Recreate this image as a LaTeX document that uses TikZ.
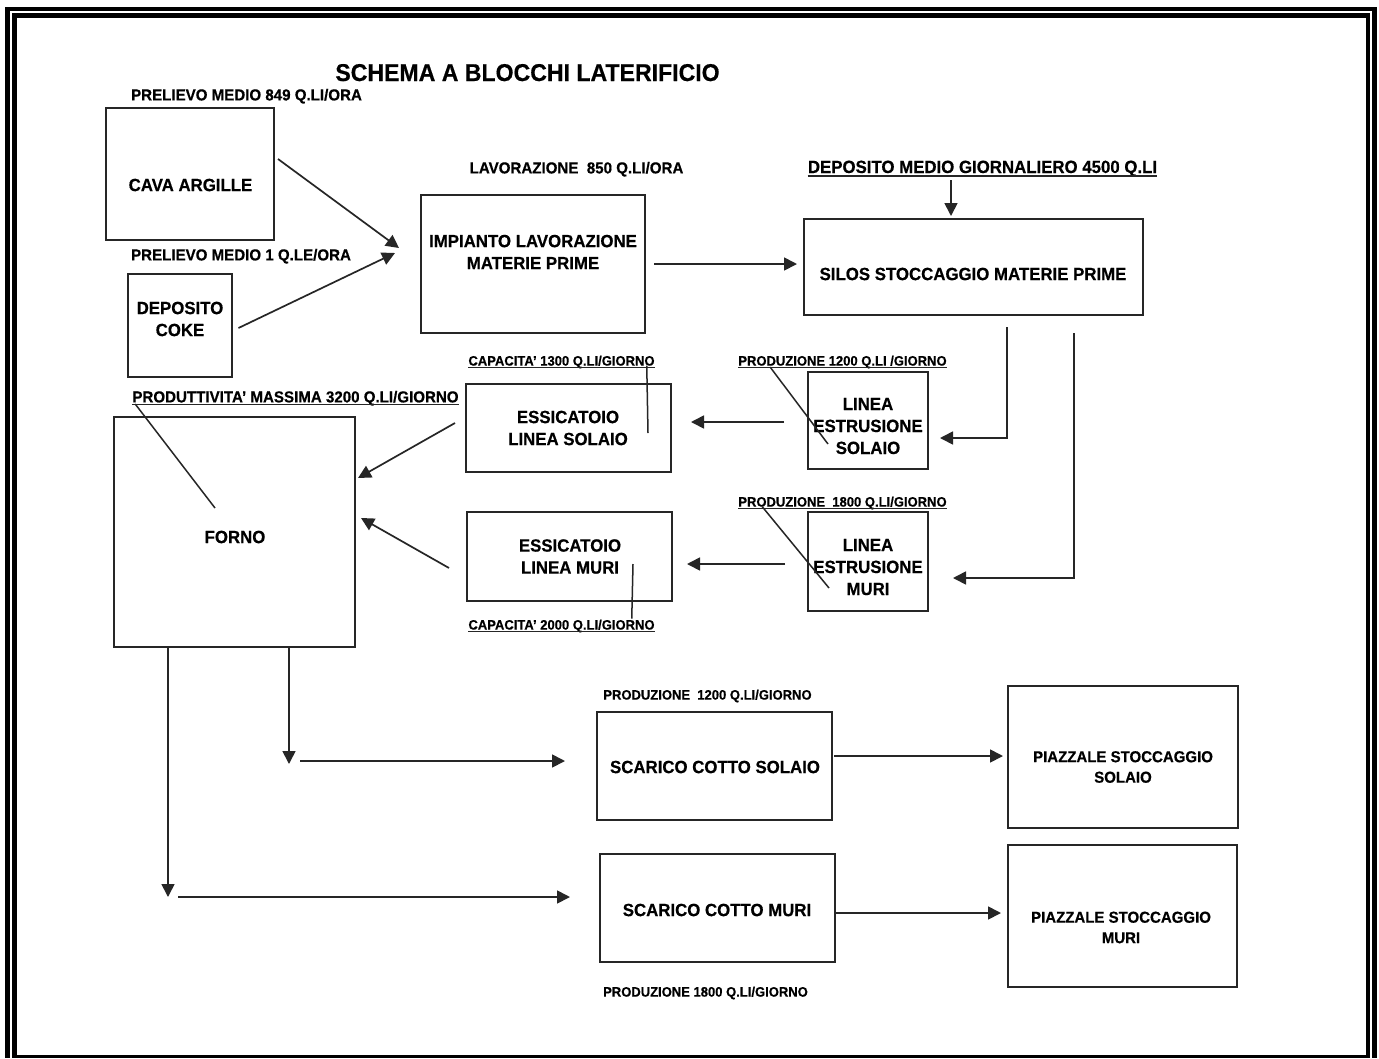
\documentclass[tikz,border=0pt]{standalone}
\usepackage{fontspec}
\setmainfont{Liberation Sans}[BoldFeatures={FakeBold=0.5,FakeStretch=0.95}]
\usetikzlibrary{arrows.meta,fit,calc}
\newcommand\mybox[5]{\coordinate (#1-a) at (#2,#3); \coordinate (#1-b) at (#4,#5); \node[box, fit=(#1-a)(#1-b)] (#1) {};}
\newcommand\ulin[2][1.8pt]{\draw[ul] ([yshift=-#1]#2.base west) -- ([yshift=-#1]#2.base east);}
\tikzset{
  box/.style={draw=black!85, line width=1.7pt, inner sep=0pt, outer sep=0pt},
  txt/.style={font=\bfseries\fontsize{17.7}{22}\selectfont, align=center, inner sep=0pt, text=black},
  txtsm/.style={font=\bfseries\fontsize{15.8}{20.5}\selectfont, align=center, inner sep=0pt, text=black},
  labA/.style={inner sep=0pt, anchor=base, text=black, font=\bfseries\fontsize{15.9}{18}\selectfont},
  labB/.style={inner sep=0pt, anchor=base, text=black, font=\bfseries\fontsize{13.7}{16}\selectfont},
  labC/.style={inner sep=0pt, anchor=base, text=black, font=\bfseries\fontsize{17.7}{20}\selectfont},
  arr/.style={draw=black!85, line width=1.7pt, -{Triangle[length=13pt,width=13pt]}},
  lead/.style={draw=black!85, line width=1.5pt},
  ul/.style={draw=black!85, line width=1.3pt},
}
\begin{document}
\begin{tikzpicture}[x=1pt,y=-1pt]
\useasboundingbox (0,0) rectangle (1379,1058);
% frame
\fill[black] (5,7) rectangle (1377,1058);
\fill[white] (10,11) rectangle (1372,1058);
\fill[black] (12,13) rectangle (1370,1058);
\fill[white] (17,18) rectangle (1366,1055);

% title and labels
\node[labA, font=\bfseries\fontsize{24.3}{28}\selectfont] (title) at (527.5,81) {SCHEMA A BLOCCHI LATERIFICIO};
\node[labA] (pre849) at (246.5,100.4) {PRELIEVO MEDIO 849 Q.LI/ORA};
\node[labA] (pre1) at (241,260.4) {PRELIEVO MEDIO 1 Q.LE/ORA};
\node[labA] (lav) at (576.5,173.4) {LAVORAZIONE\ \ 850 Q.LI/ORA};
\node[labC] (dep) at (982.5,173) {DEPOSITO MEDIO GIORNALIERO 4500 Q.LI};
\node[labB] (prodS) at (842.5,365.6) {PRODUZIONE 1200 Q.LI /GIORNO};
\node[labB] (cap1300) at (561.5,365.6) {CAPACITA' 1300 Q.LI/GIORNO};
\node[labA] (produtt) at (295.5,402.4) {PRODUTTIVITA' MASSIMA 3200 Q.LI/GIORNO};
\node[labB] (prodM) at (842.5,506.6) {PRODUZIONE\ \ 1800 Q.LI/GIORNO};
\node[labB] (cap2000) at (561.5,629.6) {CAPACITA' 2000 Q.LI/GIORNO};
\node[labB] (prodSb) at (707.5,699.6) {PRODUZIONE\ \ 1200 Q.LI/GIORNO};
\node[labB] (prodMb) at (705.5,996.6) {PRODUZIONE 1800 Q.LI/GIORNO};
\ulin[3pt]{dep}
\ulin{prodS}
\ulin{cap1300}
\ulin{produtt}
\ulin{prodM}
\ulin{cap2000}

% boxes
\mybox{cava}{106}{108}{274}{240}
\mybox{coke}{128}{274}{232}{377}
\mybox{imp}{421}{195}{645}{333}
\mybox{silos}{804}{219}{1143}{315}
\mybox{linS}{808}{372}{928}{469}
\mybox{essS}{466}{384}{671}{472}
\mybox{forno}{114}{417}{355}{647}
\mybox{essM}{467}{512}{672}{601}
\mybox{linM}{808}{512}{928}{611}
\mybox{scS}{597}{712}{832}{820}
\mybox{piS}{1008}{686}{1238}{828}
\mybox{scM}{600}{854}{835}{962}
\mybox{piM}{1008}{845}{1237}{987}

% box texts
\node[txt] (cavaT) at (190.5,185) {CAVA ARGILLE};
\node[txt] (cokeT) at (180,319) {DEPOSITO\\COKE};
\node[txt] (impT) at (533,252) {IMPIANTO LAVORAZIONE\\MATERIE PRIME};
\node[txt] (silosT) at (973,274) {SILOS STOCCAGGIO MATERIE PRIME};
\node[txt] (linST) at (868,426) {LINEA\\ESTRUSIONE\\SOLAIO};
\node[txt] (essST) at (568,428) {ESSICATOIO\\LINEA SOLAIO};
\node[txt] (fornoT) at (235,537) {FORNO};
\node[txt] (essMT) at (570,556.5) {ESSICATOIO\\LINEA MURI};
\node[txt] (linMT) at (868,567) {LINEA\\ESTRUSIONE\\MURI};
\node[txt] (scST) at (715,767) {SCARICO COTTO SOLAIO};
\node[txtsm] (piST) at (1123,767) {PIAZZALE STOCCAGGIO\\SOLAIO};
\node[txt] (scMT) at (717,910) {SCARICO COTTO MURI};
\node[txtsm] (piMT) at (1121,927.5) {PIAZZALE STOCCAGGIO\\MURI};

% free ends
\coordinate (d1) at (289,764);
\coordinate (h1) at (300,761);
\coordinate (d2) at (168,897);
\coordinate (h2) at (178,897);
\coordinate (lf) at (215,508);
\coordinate (l2) at (648,433);
\coordinate (l3) at (828,444);
\coordinate (l4) at (633,564);
\coordinate (l5) at (829,588);

% connectors
\draw[arr] ([shift={(4,-15)}]cava.east) -- ([shift={(-22,-16)}]imp.west);
\draw[arr] ([shift={(6.5,2.5)}]coke.east) -- ([shift={(-26,-11)}]imp.west);
\draw[arr] ([shift={(9,0)}]imp.east) -- ([shift={(-7,-3)}]silos.west);
\draw[arr] ([shift={(-31.5,7)}]dep.base) -- ([shift={(-22.5,-3)}]silos.north);
\draw[arr] ([shift={(33.5,12)}]silos.south) |- ([shift={(12,17.5)}]linS.east);
\draw[arr] ([shift={(100.5,18)}]silos.south) |- ([shift={(25,16.5)}]linM.east);
\draw[arr] ([shift={(-24,1.5)}]linS.west) -- ([shift={(20,-6)}]essS.east);
\draw[arr] ([shift={(-23,2.5)}]linM.west) -- ([shift={(15,7.5)}]essM.east);
\draw[arr] ([shift={(-11,-5)}]essS.west) -- ([shift={(3,-54)}]forno.east);
\draw[arr] ([shift={(-18,11.5)}]essM.west) -- ([shift={(6,-14)}]forno.east);
\draw[arr] ([xshift=54.5pt]forno.south) -- (d1);
\draw[arr] (h1) -- ([shift={(-32,-5)}]scS.west);
\draw[arr] ([xshift=-66.5pt]forno.south) -- (d2);
\draw[arr] (h2) -- ([shift={(-30,-11)}]scM.west);
\draw[arr] ([shift={(2,-10)}]scS.east) -- ([shift={(-5,-1)}]piS.west);
\draw[arr] ([shift={(1,5)}]scM.east) -- ([shift={(-7,-3)}]piM.west);

% leader lines
\draw[lead] ([shift={(3,1.6)}]produtt.base west) -- (lf);
\draw[lead] ([xshift=-8pt]cap1300.base east) -- (l2);
\draw[lead] ([shift={(32,1.5)}]prodS.base west) -- (l3);
\draw[lead] (l4) -- ([shift={(-23,-11)}]cap2000.base east);
\draw[lead] ([shift={(24,0)}]prodM.base west) -- (l5);
\end{tikzpicture}
\end{document}
